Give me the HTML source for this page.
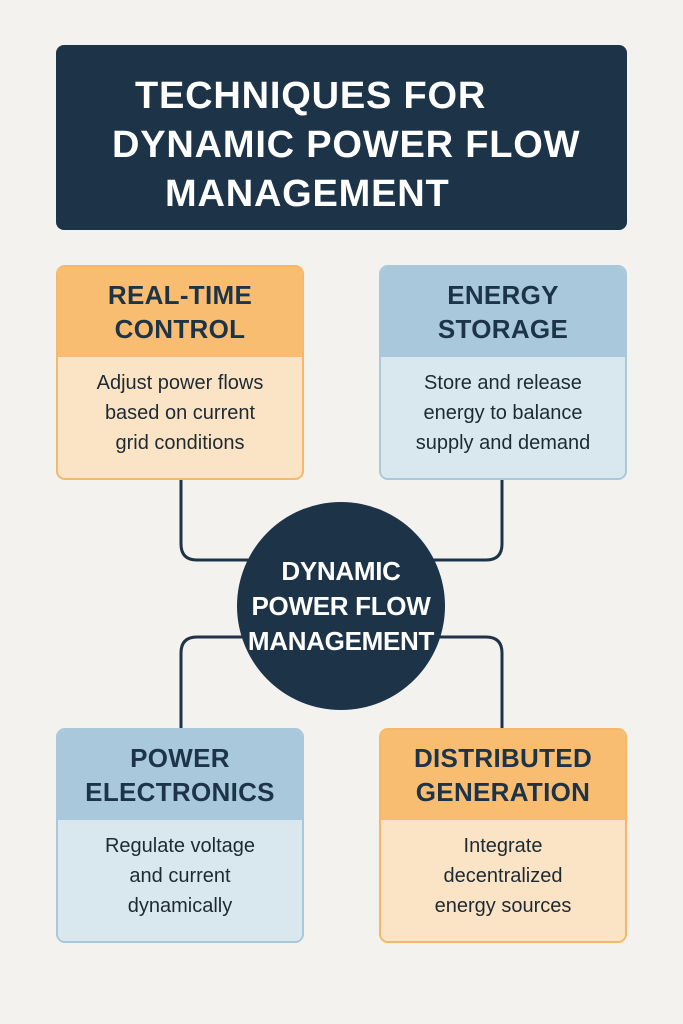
<!DOCTYPE html>
<html><head><style>
body{margin:0;width:683px;height:1024px;background:#f3f2ef;font-family:"Liberation Sans",sans-serif;position:relative;overflow:hidden}
.title{position:absolute;left:56px;top:45px;width:571px;height:185px;background:#1d3448;border-radius:8px;color:#fff;font-weight:bold;font-size:38px;line-height:49px;letter-spacing:0.8px}
.title div{position:absolute;white-space:nowrap}
.box{position:absolute;width:244px;height:211px;border-radius:9px;border:2px solid;overflow:hidden;box-sizing:content-box}
.hd{height:90px;display:flex;align-items:center;justify-content:center;text-align:center;font-weight:bold;font-size:26px;line-height:34px;color:#1d3448;letter-spacing:0.3px}
.bd{height:121px;display:flex;align-items:center;justify-content:center;text-align:center;font-size:20px;line-height:30px;color:#1e2a33;padding-bottom:10px;box-sizing:border-box}
.o{border-color:#f5b868}.o .hd{background:#f8bd70}.o .bd{background:#fbe4c6}
.b{border-color:#a9c8db}.b .hd{background:#a9c8db}.b .bd{background:#d9e7ef}
.circ{position:absolute;left:237px;top:502px;width:208px;height:208px;border-radius:50%;background:#1d3448;color:#fff;font-weight:bold;font-size:26px;line-height:35px;display:flex;align-items:center;justify-content:center;text-align:center;letter-spacing:-0.3px}
</style></head><body>
<div class="title">
<div style="left:79px;top:27px">TECHNIQUES FOR</div>
<div style="left:56px;top:76px">DYNAMIC POWER FLOW</div>
<div style="left:109px;top:125px">MANAGEMENT</div>
</div>
<svg style="position:absolute;left:0;top:0" width="683" height="1024">
<g fill="none" stroke="#1d3448" stroke-width="3">
<path d="M181 480 V544 Q181 560 197 560 H260"/>
<path d="M502 480 V544 Q502 560 486 560 H420"/>
<path d="M181 728 V653 Q181 637 197 637 H260"/>
<path d="M502 728 V653 Q502 637 486 637 H420"/>
</g></svg>
<div class="box o" style="left:56px;top:265px"><div class="hd">REAL-TIME<br>CONTROL</div><div class="bd">Adjust power flows<br>based on current<br>grid conditions</div></div>
<div class="box b" style="left:379px;top:265px"><div class="hd">ENERGY<br>STORAGE</div><div class="bd">Store and release<br>energy to balance<br>supply and demand</div></div>
<div class="box b" style="left:56px;top:728px"><div class="hd">POWER<br>ELECTRONICS</div><div class="bd">Regulate voltage<br>and current<br>dynamically</div></div>
<div class="box o" style="left:379px;top:728px"><div class="hd">DISTRIBUTED<br>GENERATION</div><div class="bd">Integrate<br>decentralized<br>energy sources</div></div>
<div class="circ">DYNAMIC<br>POWER FLOW<br>MANAGEMENT</div>
</body></html>
